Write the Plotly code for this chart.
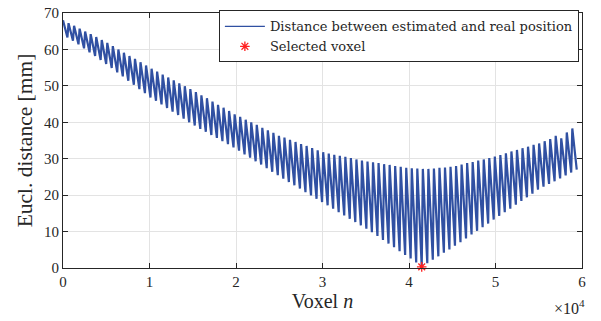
import plotly.graph_objects as go

# Per-cycle peak values (mm), one per oscillation
peaks = [68.0, 67.2, 66.5, 65.7, 64.9, 64.2, 63.4, 62.6, 61.8, 60.9,
         60.0, 59.1, 58.2, 57.4, 56.5, 55.6, 54.7, 53.9, 53.1, 52.3,
         51.5, 50.7, 49.9, 49.1, 48.3, 47.4, 46.6, 45.7, 44.8, 44.0,
         43.1, 42.2, 41.5, 40.7, 40.0, 39.3, 38.5, 37.8, 37.1, 36.3,
         35.8, 35.2, 34.6, 34.0, 33.5, 32.9, 32.3, 31.8, 31.4, 31.1,
         30.8, 30.5, 30.2, 29.8, 29.5, 29.2, 29.0, 28.8, 28.5, 28.3,
         28.0, 27.8, 27.5, 27.4, 27.3, 27.2, 27.2, 27.3, 27.5, 27.6,
         27.8, 28.0, 28.4, 28.8, 29.1, 29.5, 29.8, 30.2, 30.6, 31.0,
         31.5, 32.0, 32.4, 32.9, 33.3, 33.8, 34.2, 34.8, 35.4, 36.3,
         35.6, 37.2, 38.3]
# Per-cycle trough values (mm)
troughs = [63.3, 62.4, 61.4, 60.3, 59.2, 58.2, 57.1, 56.0, 54.9, 53.7,
           52.6, 51.4, 50.3, 49.1, 48.0, 46.8, 45.9, 44.9, 43.9, 42.9,
           42.0, 41.0, 40.0, 39.1, 38.2, 37.4, 36.5, 35.7, 34.8, 34.0,
           33.1, 32.2, 31.2, 30.3, 29.3, 28.4, 27.4, 26.4, 25.5, 24.5,
           23.6, 22.7, 21.8, 20.8, 19.9, 19.0, 18.1, 17.2, 16.3, 15.3,
           14.4, 13.5, 12.6, 11.7, 10.8, 9.8, 8.8, 7.7, 6.7, 5.7,
           4.6, 3.6, 2.6, 1.5, 0.3, 1.3, 2.3, 3.2, 4.2, 5.1,
           6.1, 7.1, 8.1, 9.2, 10.2, 11.2, 12.2, 13.3, 14.3, 15.3,
           16.3, 17.4, 18.4, 19.4, 20.4, 21.5, 22.3, 23.1, 23.8, 24.6,
           25.4, 26.2, 27.0]
PERIOD = 640          # voxels per oscillation
sel_x = [41472]        # selected voxel
sel_y = [0.3]
x_ticks = [0, 10000, 20000, 30000, 40000, 50000, 60000]
x_labels = ["0", "1", "2", "3", "4", "5", "6"]
y_ticks = [0, 10, 20, 30, 40, 50, 60, 70]
y_labels = ["0", "10", "20", "30", "40", "50", "60", "70"]

xs, ys = [], []
for k, (p, t) in enumerate(zip(peaks, troughs)):
    xs += [k * PERIOD, k * PERIOD + 0.8 * PERIOD]
    ys += [p, t]

FONT = "Liberation Serif"
TXT = "#262626"
BLUE = "#3050a2"
RED = "#ff2020"

fig = go.Figure()
fig.add_trace(go.Scatter(x=xs, y=ys, mode="lines", showlegend=False,
                         line=dict(color=BLUE, width=2.2),
                         name="Distance between estimated and real position"))
# legend entry with a thin line sample
fig.add_trace(go.Scatter(x=[None], y=[None], mode="lines",
                         line=dict(color=BLUE, width=1.2),
                         name="Distance between estimated and real position"))
fig.add_trace(go.Scatter(x=sel_x, y=sel_y, mode="markers",
                         marker=dict(symbol="asterisk-open", color=RED, size=8,
                                     line=dict(color=RED, width=1.3)),
                         name="Selected voxel", cliponaxis=False))

axis_common = dict(showline=True, linecolor=TXT, linewidth=1, mirror="allticks",
                   ticks="inside", ticklen=5, tickcolor=TXT, showgrid=True,
                   gridcolor="#e3e3e3", gridwidth=1, zeroline=False,
                   ticklabeloverflow="allow",
                   tickfont=dict(family=FONT, size=15, color=TXT))
fig.update_xaxes(range=[0, 60000], tickvals=x_ticks, ticktext=x_labels,
                 title=dict(text="Voxel <i>n</i>", font=dict(family=FONT, size=20, color=TXT),
                            standoff=2),
                 **axis_common)
fig.update_yaxes(range=[0, 70], tickvals=y_ticks, ticktext=y_labels,
                 title=dict(text="Eucl. distance [mm]", font=dict(family=FONT, size=21.5, color=TXT),
                            standoff=5),
                 **axis_common)
fig.add_annotation(text="×10<sup>4</sup>", xref="paper", yref="paper", x=1.01, y=-0.105,
                   xanchor="right", yanchor="top", showarrow=False,
                   font=dict(family=FONT, size=16, color=TXT))
fig.update_layout(width=601, height=321, margin=dict(l=63, r=19, t=5, b=53),
                  paper_bgcolor="white", plot_bgcolor="white",
                  font=dict(family=FONT, color=TXT),
                  legend=dict(x=0.994, y=1.01, xanchor="right", yanchor="top",
                              bgcolor="white", bordercolor=TXT, borderwidth=1,
                              font=dict(family="DejaVu Serif", size=13, color=TXT),
                              itemwidth=40, tracegroupgap=0))
fig.write_html("out.html")
